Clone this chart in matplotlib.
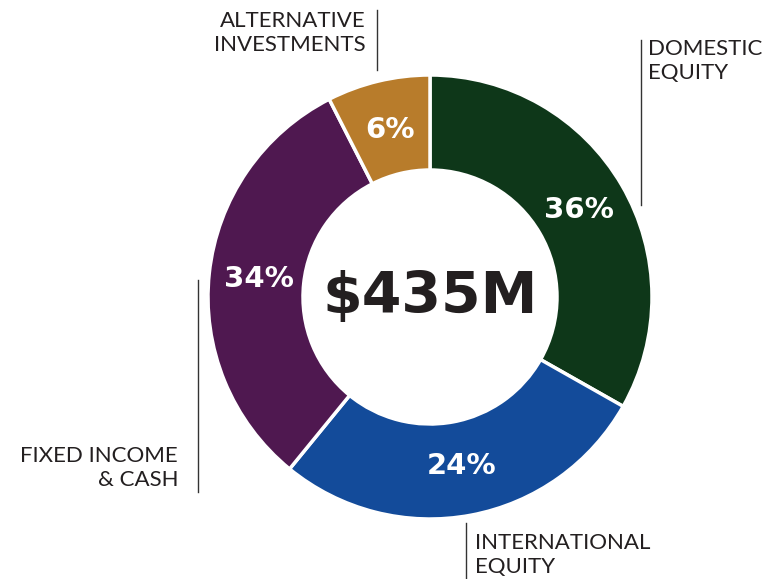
import matplotlib.pyplot as plt
import numpy as np

# data
categories = ["DOMESTIC\nEQUITY", "INTERNATIONAL\nEQUITY", "FIXED INCOME\n& CASH", "ALTERNATIVE\nINVESTMENTS"]
pct_labels = ["36%", "24%", "34%", "6%"]
shares = [33.2, 27.7, 31.6, 7.5]   # slice sizes as drawn
total_label = "$435M"
colors = ["#0e3719", "#134b9a", "#4f1850", "#b87c2b"]

W, H = 774, 579
fig = plt.figure(figsize=(W / 100, H / 100), dpi=100)
ax = fig.add_axes([0, 0, 1, 1])

cx, cy = 430, H - 297
R, r_in = 222, 127

wedges, _ = ax.pie(shares, colors=colors, startangle=90, counterclock=False,
                   radius=R, center=(cx, cy),
                   wedgeprops=dict(width=R - r_in, edgecolor="white", linewidth=2.5))
ax.set_xlim(0, W)
ax.set_ylim(0, H)
ax.set_aspect("equal")
ax.axis("off")

# percent labels inside the ring
for w, lab in zip(wedges, pct_labels):
    mid = np.deg2rad((w.theta1 + w.theta2) / 2)
    rr = 172
    ax.text(cx + rr * np.cos(mid), cy + rr * np.sin(mid), lab, color="white",
            fontsize=21, fontweight="heavy", family="DejaVu Sans",
            ha="center", va="center")

ax.text(cx, cy, total_label, color="#231f20", fontsize=41, fontweight="heavy",
        family="DejaVu Sans", ha="center", va="center")

# outside labels: (text x, top y, align, line x, line y0, line y1) in pixel coords
lbl_font = dict(family="Lato", fontweight="normal", fontsize=16, color="#231f20",
                linespacing=1.28)
places = [
    (648, 39, "left", 641, 40, 205),
    (475, 533, "left", 466, 523, 579),
    (178, 446, "right", 198, 280, 492),
    (366, 11, "right", 377, 10, 70),
]
for cat, (tx, ty, al, lx, ly0, ly1) in zip(categories, places):
    ax.text(tx, H - ty, cat, ha=al, va="top", **lbl_font)
    ax.plot([lx, lx], [H - ly0, H - ly1], color="#333333", lw=1)

plt.savefig("out.png", dpi=100, facecolor="w")
